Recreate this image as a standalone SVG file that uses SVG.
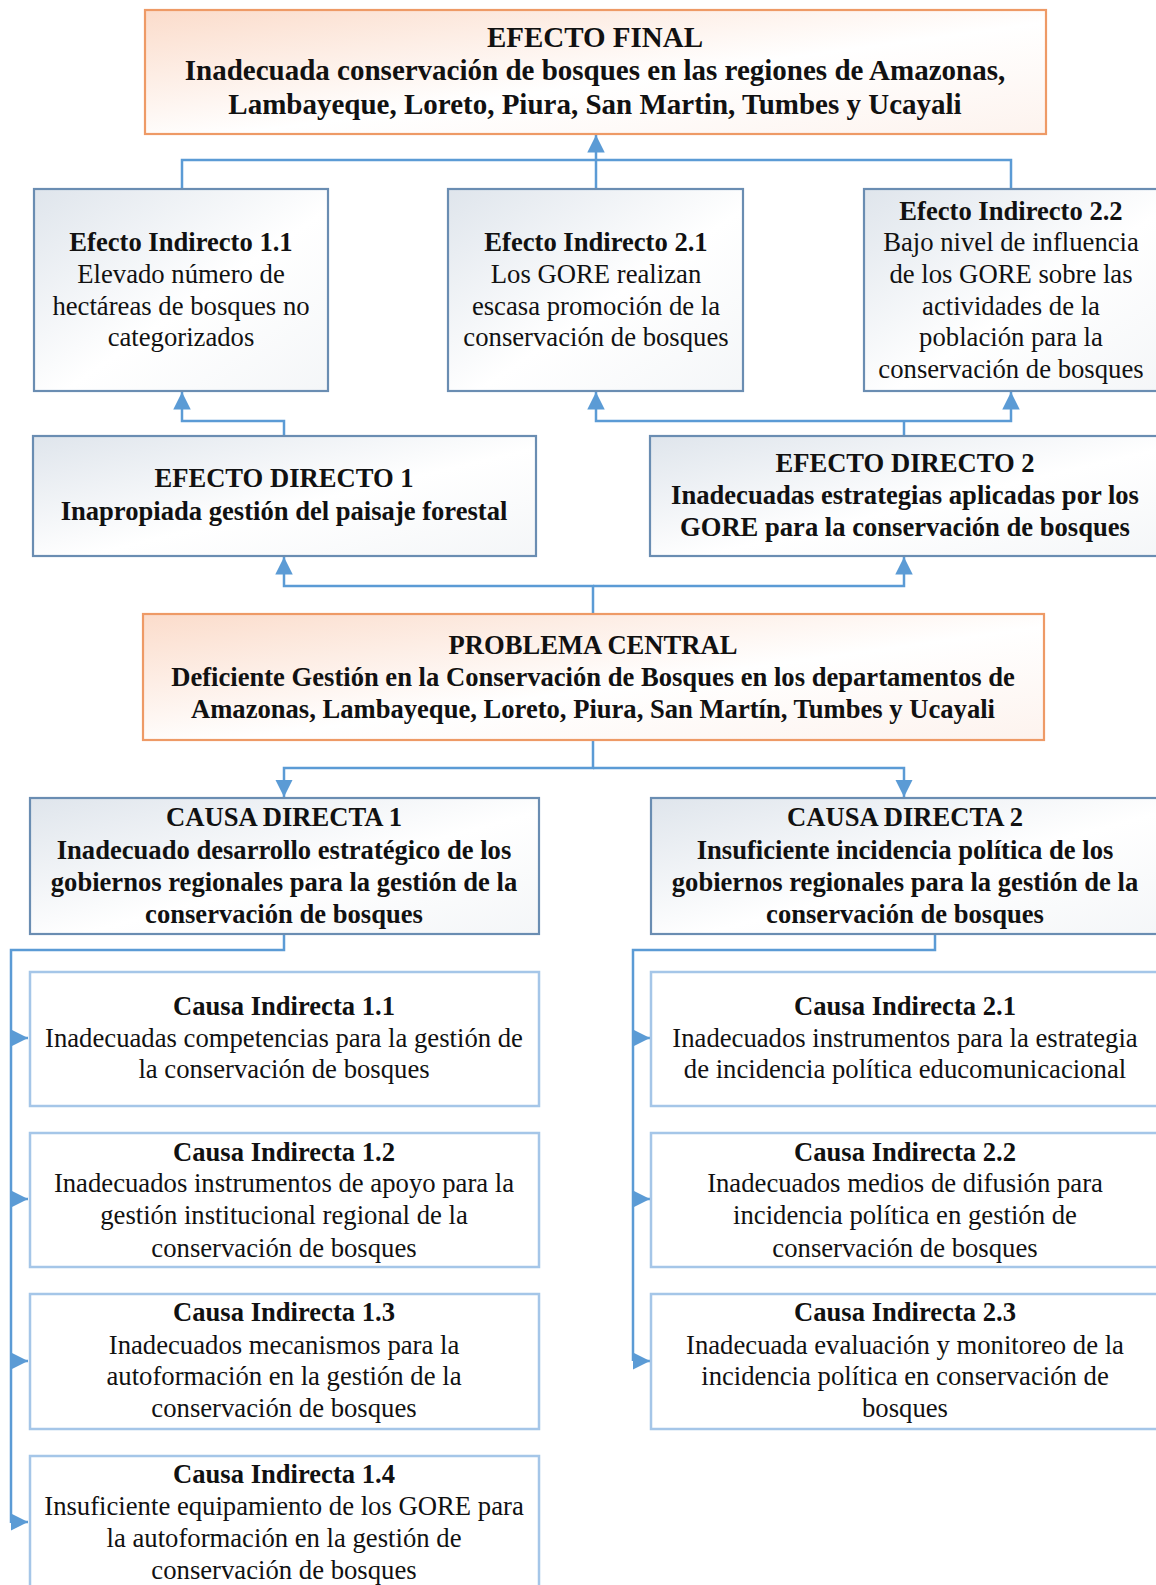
<svg xmlns="http://www.w3.org/2000/svg" width="1156" height="1585" viewBox="0 0 1156 1585">
<defs>
<linearGradient id="gb" x1="0" y1="0" x2="1" y2="1">
<stop offset="0" stop-color="#dfe5ec"/>
<stop offset="0.55" stop-color="#ffffff"/>
<stop offset="1" stop-color="#f4f6f8"/>
</linearGradient>
<linearGradient id="go" x1="0" y1="0" x2="1" y2="1">
<stop offset="0" stop-color="#fbdccb"/>
<stop offset="0.55" stop-color="#ffffff"/>
<stop offset="1" stop-color="#fdf3ee"/>
</linearGradient>
<marker id="ar" viewBox="0 0 10 10" refX="10" refY="5" markerWidth="7" markerHeight="7" markerUnits="strokeWidth" orient="auto">
<path d="M0,0 L10,5 L0,10 z" fill="#5b9bd5"/>
</marker>
</defs>
<style>
.bx{fill:url(#gb);stroke:#6a8db2;stroke-width:2.2}
.or{fill:url(#go);stroke:#ee9a66;stroke-width:2.2}
.ci{fill:#ffffff;stroke:#a5c6e8;stroke-width:2.5}
.cn{fill:none;stroke:#5b9bd5;stroke-width:2.5}
text{font-family:"Liberation Serif","Times New Roman",serif;fill:#111;text-anchor:middle}
.b{font-weight:bold;font-size:26.6px}
.r{font-size:26.7px}
.bt{font-weight:bold;font-size:29px}
</style>

<g id="connectors">
<polyline class="cn" points="182,189 182,160 1011,160 1011,189"/>
<line class="cn" x1="596" y1="189" x2="596" y2="135" marker-end="url(#ar)"/>
<polyline class="cn" points="284,436 284,421 182,421 182,392" marker-end="url(#ar)"/>
<line class="cn" x1="904" y1="436" x2="904" y2="421"/>
<polyline class="cn" points="904,421 596,421 596,392" marker-end="url(#ar)"/>
<polyline class="cn" points="904,421 1011,421 1011,392" marker-end="url(#ar)"/>
<polyline class="cn" points="593,613 593,586 284,586 284,557" marker-end="url(#ar)"/>
<polyline class="cn" points="593,586 904,586 904,557" marker-end="url(#ar)"/>
<polyline class="cn" points="593,740 593,768 284,768 284,797" marker-end="url(#ar)"/>
<polyline class="cn" points="593,768 904,768 904,797" marker-end="url(#ar)"/>
<polyline class="cn" points="284,934 284,950 11,950 11,1523"/>
<line class="cn" x1="11" y1="1038" x2="28" y2="1038" marker-end="url(#ar)"/>
<line class="cn" x1="11" y1="1199" x2="28" y2="1199" marker-end="url(#ar)"/>
<line class="cn" x1="11" y1="1361" x2="28" y2="1361" marker-end="url(#ar)"/>
<line class="cn" x1="11" y1="1522" x2="28" y2="1522" marker-end="url(#ar)"/>
<polyline class="cn" points="935,934 935,950 633,950 633,1361"/>
<line class="cn" x1="633" y1="1038" x2="650" y2="1038" marker-end="url(#ar)"/>
<line class="cn" x1="633" y1="1199" x2="650" y2="1199" marker-end="url(#ar)"/>
<line class="cn" x1="633" y1="1361" x2="650" y2="1361" marker-end="url(#ar)"/>
</g>

<g id="efecto-final">
<rect class="or" x="145" y="10" width="901" height="124"/>
<text class="bt" x="595" y="47">EFECTO FINAL</text>
<text class="bt" x="595" y="80">Inadecuada conservación de bosques en las regiones de Amazonas,</text>
<text class="bt" x="595" y="114">Lambayeque, Loreto, Piura, San Martin, Tumbes y Ucayali</text>
</g>

<g id="efecto-indirecto-1-1">
<rect class="bx" x="34" y="189" width="294" height="202"/>
<text class="b" x="181" y="251">Efecto Indirecto 1.1</text>
<text class="r" x="181" y="283">Elevado número de</text>
<text class="r" x="181" y="315">hectáreas de bosques no</text>
<text class="r" x="181" y="346">categorizados</text>
</g>

<g id="efecto-indirecto-2-1">
<rect class="bx" x="448" y="189" width="295" height="202"/>
<text class="b" x="596" y="251">Efecto Indirecto 2.1</text>
<text class="r" x="596" y="283">Los GORE realizan</text>
<text class="r" x="596" y="315">escasa promoción de la</text>
<text class="r" x="596" y="346">conservación de bosques</text>
</g>

<g id="efecto-indirecto-2-2">
<rect class="bx" x="864" y="189" width="300" height="202"/>
<text class="b" x="1011" y="220">Efecto Indirecto 2.2</text>
<text class="r" x="1011" y="251">Bajo nivel de influencia</text>
<text class="r" x="1011" y="283">de los GORE sobre las</text>
<text class="r" x="1011" y="315">actividades de la</text>
<text class="r" x="1011" y="346">población para la</text>
<text class="r" x="1011" y="378">conservación de bosques</text>
</g>

<g id="efecto-directo-1">
<rect class="bx" x="33" y="436" width="503" height="120"/>
<text class="b" x="284" y="487">EFECTO DIRECTO 1</text>
<text class="b" x="284" y="520">Inapropiada gestión del paisaje forestal</text>
</g>

<g id="efecto-directo-2">
<rect class="bx" x="650" y="436" width="514" height="120"/>
<text class="b" x="905" y="472">EFECTO DIRECTO 2</text>
<text class="b" x="905" y="504">Inadecuadas estrategias aplicadas por los</text>
<text class="b" x="905" y="536">GORE para la conservación de bosques</text>
</g>

<g id="problema-central">
<rect class="or" x="143" y="614" width="901" height="126"/>
<text class="b" x="593" y="654">PROBLEMA CENTRAL</text>
<text class="b" x="593" y="686">Deficiente Gestión en la Conservación de Bosques en los departamentos de</text>
<text class="b" x="593" y="718">Amazonas, Lambayeque, Loreto, Piura, San Martín, Tumbes y Ucayali</text>
</g>

<g id="causa-directa-1">
<rect class="bx" x="30" y="798" width="509" height="136"/>
<text class="b" x="284" y="826">CAUSA DIRECTA 1</text>
<text class="b" x="284" y="859">Inadecuado desarrollo estratégico de los</text>
<text class="b" x="284" y="891">gobiernos regionales para la gestión de la</text>
<text class="b" x="284" y="923">conservación de bosques</text>
</g>

<g id="causa-directa-2">
<rect class="bx" x="651" y="798" width="513" height="136"/>
<text class="b" x="905" y="826">CAUSA DIRECTA 2</text>
<text class="b" x="905" y="859">Insuficiente incidencia política de los</text>
<text class="b" x="905" y="891">gobiernos regionales para la gestión de la</text>
<text class="b" x="905" y="923">conservación de bosques</text>
</g>

<g id="causa-indirecta-1-1">
<rect class="ci" x="30" y="972" width="509" height="134"/>
<text class="b" x="284" y="1015">Causa Indirecta 1.1</text>
<text class="r" x="284" y="1047">Inadecuadas competencias para la gestión de</text>
<text class="r" x="284" y="1078">la conservación de bosques</text>
</g>

<g id="causa-indirecta-1-2">
<rect class="ci" x="30" y="1133" width="509" height="134"/>
<text class="b" x="284" y="1161">Causa Indirecta 1.2</text>
<text class="r" x="284" y="1192">Inadecuados instrumentos de apoyo para la</text>
<text class="r" x="284" y="1224">gestión institucional regional de la</text>
<text class="r" x="284" y="1257">conservación de bosques</text>
</g>

<g id="causa-indirecta-1-3">
<rect class="ci" x="30" y="1294" width="509" height="135"/>
<text class="b" x="284" y="1321">Causa Indirecta 1.3</text>
<text class="r" x="284" y="1354">Inadecuados mecanismos para la</text>
<text class="r" x="284" y="1385">autoformación en la gestión de la</text>
<text class="r" x="284" y="1417">conservación de bosques</text>
</g>

<g id="causa-indirecta-1-4">
<rect class="ci" x="30" y="1456" width="509" height="140"/>
<text class="b" x="284" y="1483">Causa Indirecta 1.4</text>
<text class="r" x="284" y="1515">Insuficiente equipamiento de los GORE para</text>
<text class="r" x="284" y="1547">la autoformación en la gestión de</text>
<text class="r" x="284" y="1579">conservación de bosques</text>
</g>

<g id="causa-indirecta-2-1">
<rect class="ci" x="651" y="972" width="513" height="134"/>
<text class="b" x="905" y="1015">Causa Indirecta 2.1</text>
<text class="r" x="905" y="1047">Inadecuados instrumentos para la estrategia</text>
<text class="r" x="905" y="1078">de incidencia política educomunicacional</text>
</g>

<g id="causa-indirecta-2-2">
<rect class="ci" x="651" y="1133" width="513" height="134"/>
<text class="b" x="905" y="1161">Causa Indirecta 2.2</text>
<text class="r" x="905" y="1192">Inadecuados medios de difusión para</text>
<text class="r" x="905" y="1224">incidencia política en gestión de</text>
<text class="r" x="905" y="1257">conservación de bosques</text>
</g>

<g id="causa-indirecta-2-3">
<rect class="ci" x="651" y="1294" width="513" height="135"/>
<text class="b" x="905" y="1321">Causa Indirecta 2.3</text>
<text class="r" x="905" y="1354">Inadecuada evaluación y monitoreo de la</text>
<text class="r" x="905" y="1385">incidencia política en conservación de</text>
<text class="r" x="905" y="1417">bosques</text>
</g>
</svg>
